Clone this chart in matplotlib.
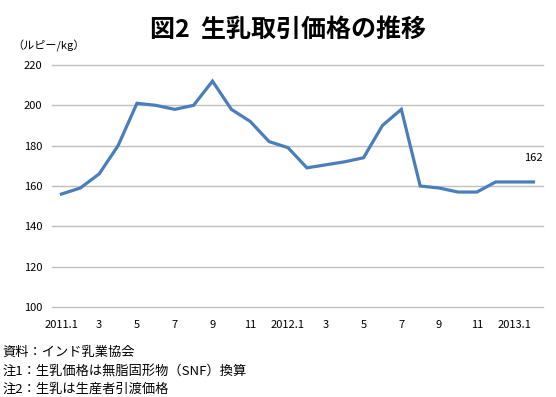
import numpy as np
import matplotlib
matplotlib.use('Agg')
import matplotlib.pyplot as plt

plt.rcParams['font.family'] = ['Noto Sans CJK JP', 'DejaVu Sans']

# monthly raw milk price, 2011.1 - 2013.2 (rupee/kg)
months = ['2011.1', '2', '3', '4', '5', '6', '7', '8', '9', '10', '11', '12',
          '2012.1', '2', '3', '4', '5', '6', '7', '8', '9', '10', '11', '12',
          '2013.1', '2']
price = [156, 159, 166, 180, 201, 200, 198, 200, 212, 198, 192, 182,
         179, 169, 170.5, 172, 174, 190, 198, 160, 159, 157, 157, 162,
         162, 162]
yticks = [100, 120, 140, 160, 180, 200, 220]

title = '図2  生乳取引価格の推移'
unit = '（ルピー/kg）'
notes = ['資料：インド乳業協会',
         '注1：生乳価格は無脂固形物（SNF）換算',
         '注2：生乳は生産者引渡価格']

fig = plt.figure(figsize=(5.56, 3.97), dpi=100)
ax = fig.add_axes([0.0935, 0.2267, 0.883, 0.6096])

x = np.arange(len(price))
ax.plot(x, price, color='#4A7EBB', linewidth=2.3, solid_joinstyle='miter')
ax.annotate(str(price[-1]), (x[-1], price[-1]), xytext=(0, 14),
            textcoords='offset points', ha='center', va='bottom', fontsize=8)

ax.set_xlim(-0.5, len(price) - 0.5)
ax.set_ylim(100, 220)
ax.set_yticks(yticks)
ax.set_xticks(x[::2])
ax.set_xticklabels(months[::2], fontsize=8)
ax.tick_params(axis='y', labelsize=8, length=0, pad=7)
ax.tick_params(axis='x', length=0, pad=9)
ax.grid(axis='y', color='#BFBFBF', linewidth=1)
for gl in ax.get_ygridlines():
    gl.set_clip_on(False)
ax.set_axisbelow(True)
for s in ax.spines.values():
    s.set_visible(False)

fig.text(0.518, 0.925, title, ha='center', va='center', fontsize=18, fontweight='bold')
fig.text(0.022, 0.885, unit, ha='left', va='center', fontsize=8)
for i, n in enumerate(notes):
    fig.text(0.005, 0.112 - i * 0.046, n, ha='left', va='center', fontsize=9.5)

fig.savefig('out.png', dpi=100)
